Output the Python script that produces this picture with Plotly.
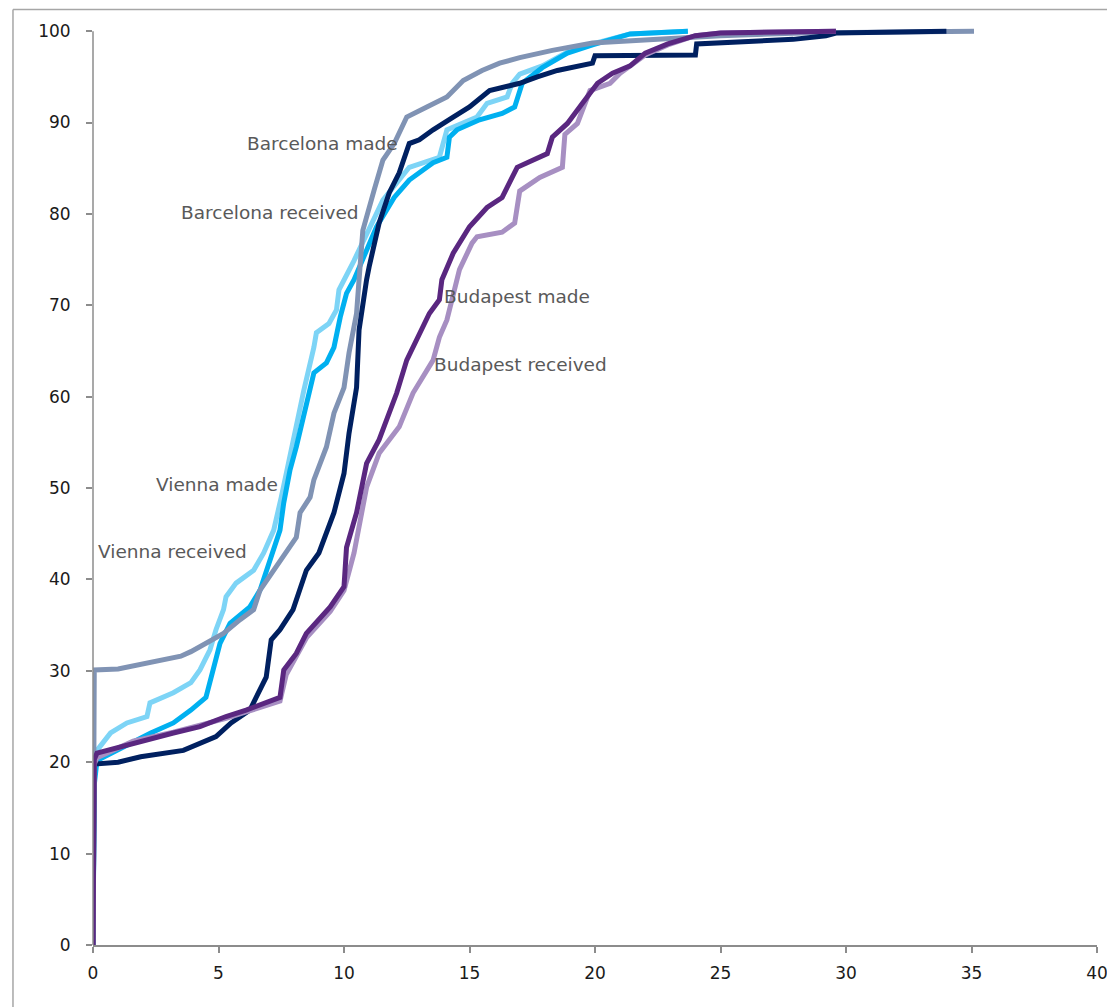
import plotly.graph_objects as go

# ---------------- data ----------------
bcn_made_x = [0, 0.05, 1.0, 1.5, 2.3, 3.5, 3.9, 4.66, 5.2, 5.86, 6.4, 6.65, 7.2, 7.7, 8.1, 8.25, 8.65, 8.8,
              9.3, 9.6, 10.0, 10.2, 10.4, 10.5, 10.6, 10.75, 11.2, 11.55, 12.0, 12.5, 13.3, 14.1, 14.75, 15.5,
              16.2, 17.0, 18.3, 19.9, 22.5, 25.0, 28.2, 35.1]
bcn_made_y = [0, 30.1, 30.2, 30.5, 31.0, 31.6, 32.1, 33.2, 34.1, 35.6, 36.7, 38.8, 41.0, 43.2, 44.6, 47.3, 49.0, 50.9,
              54.5, 58.2, 61.0, 64.8, 67.6, 69.1, 72.8, 78.2, 82.6, 85.9, 87.7, 90.6, 91.7, 92.8, 94.6, 95.7,
              96.5, 97.1, 97.9, 98.7, 99.1, 99.5, 99.8, 100]

bcn_recv_x = [0, 0.05, 1.0, 1.9, 3.6, 4.9, 5.5, 6.25, 6.5, 6.9, 7.1, 7.45, 7.97, 8.25, 8.5, 9.0, 9.6, 10.0,
              10.2, 10.5, 10.6, 10.9, 11.0, 11.4, 11.8, 12.2, 12.6, 13.0, 13.55, 14.35, 15.0, 15.8, 17.0, 17.7,
              18.5, 19.9, 20.0, 24.0, 24.05, 27.9, 29.2, 29.6, 34.0]
bcn_recv_y = [0, 19.8, 20.0, 20.6, 21.3, 22.8, 24.3, 25.7, 27.1, 29.3, 33.4, 34.5, 36.7, 38.8, 41.0, 42.9, 47.3, 51.6,
              56.0, 61.0, 67.3, 72.8, 74.2, 79.0, 82.3, 84.5, 87.7, 88.1, 89.2, 90.6, 91.7, 93.5, 94.3, 95.0,
              95.7, 96.5, 97.3, 97.4, 98.6, 99.1, 99.5, 99.8, 100]

vie_made_x = [0, 0.05, 0.16, 1.5, 2.3, 3.2, 3.9, 4.5, 4.8, 5.06, 5.46, 6.25, 6.65, 7.05, 7.45, 7.6, 7.85,
              8.1, 8.5, 8.8, 9.3, 9.6, 9.85, 10.1, 10.4, 11.3, 12.0, 12.6, 13.55, 14.1, 14.2, 14.5, 15.4,
              16.3, 16.8, 17.1, 17.9, 18.9, 19.9, 21.4, 23.7]
vie_made_y = [0, 17.5, 20.2, 22.1, 23.2, 24.3, 25.7, 27.1, 30.1, 33.0, 35.2, 37.0, 38.8, 42.1, 45.4, 48.4, 52.0,
              54.5, 58.9, 62.6, 63.7, 65.4, 68.7, 71.3, 72.8, 78.6, 81.8, 83.7, 85.6, 86.2, 88.4, 89.2, 90.3,
              91.0, 91.7, 94.3, 96.0, 97.6, 98.5, 99.7, 100]

vie_recv_x = [0, 0.05, 0.16, 0.7, 1.35, 2.15, 2.27, 3.2, 3.9, 4.26, 4.66, 4.9, 5.2, 5.3, 5.7, 6.4, 6.8, 7.2,
              7.5, 8.0, 8.4, 8.8, 8.9, 9.4, 9.7, 9.8, 10.4, 11.55, 12.6, 13.8, 14.1, 15.3, 15.7, 16.5, 16.7,
              17.0, 17.9, 18.9, 19.9, 21.4, 23.7]
vie_recv_y = [0, 18.5, 21.3, 23.2, 24.3, 25.0, 26.5, 27.6, 28.7, 30.1, 32.3, 34.5, 36.7, 38.1, 39.6, 41.0, 42.9, 45.4,
              49.0, 55.6, 60.7, 65.4, 67.0, 68.0, 69.5, 71.7, 74.9, 81.5, 85.1, 86.2, 89.2, 90.6, 92.1, 92.8, 94.3,
              95.3, 96.2, 97.7, 98.6, 99.7, 100]

bud_made_x = [0, 0.05, 0.16, 1.6, 3.2, 4.26, 5.3, 6.1, 7.45, 7.6, 8.1, 8.5, 9.45, 10.0, 10.1, 10.5, 10.9,
              11.4, 11.7, 12.1, 12.5, 12.9, 13.4, 13.8, 13.9, 14.35, 15.0, 15.7, 16.3, 16.9, 18.1, 18.3, 18.9,
              19.5, 20.1, 20.7, 21.4, 22.0, 22.9, 24.0, 25.0, 29.6]
bud_made_y = [0, 20.3, 21.0, 22.1, 23.2, 23.9, 25.0, 25.7, 27.1, 30.1, 31.9, 34.1, 37.0, 39.2, 43.5, 47.3, 52.7,
              55.3, 57.4, 60.4, 64.0, 66.2, 69.1, 70.6, 72.8, 75.7, 78.6, 80.7, 81.8, 85.1, 86.6, 88.4, 89.9,
              92.1, 94.3, 95.4, 96.2, 97.6, 98.6, 99.5, 99.8, 100]

bud_recv_x = [0, 0.05, 0.16, 1.6, 3.2, 4.26, 5.3, 6.1, 7.45, 7.7, 8.1, 8.5, 9.45, 10.0, 10.4, 10.9, 11.4,
              12.2, 12.75, 13.15, 13.55, 13.8, 14.1, 14.3, 14.6, 15.1, 15.3, 16.3, 16.8, 17.0, 17.8, 18.7,
              18.8, 19.3, 19.8, 20.6, 21.0, 22.0, 22.9, 24.0, 25.0, 29.6]
bud_recv_y = [0, 19.8, 20.5, 22.3, 23.3, 24.0, 24.8, 25.5, 26.7, 29.6, 31.5, 33.6, 36.5, 38.8, 42.9, 50.1, 53.8,
              56.7, 60.4, 62.1, 64.0, 66.5, 68.4, 70.6, 73.9, 76.8, 77.5, 78.0, 79.0, 82.5, 84.0, 85.1,
              88.7, 89.9, 93.5, 94.3, 95.4, 97.4, 98.5, 99.5, 99.8, 100]

series_names = ["Vienna received", "Vienna made", "Barcelona made", "Barcelona received",
                "Budapest received", "Budapest made"]
series_x = [vie_recv_x, vie_made_x, bcn_made_x, bcn_recv_x, bud_recv_x, bud_made_x]
series_y = [vie_recv_y, vie_made_y, bcn_made_y, bcn_recv_y, bud_recv_y, bud_made_y]
series_colors = ["#7dd4f6", "#00b0f0", "#8093b4", "#002060", "#a78fc2", "#5a2780"]

x_ticks = [0, 5, 10, 15, 20, 25, 30, 35, 40]
y_ticks = [0, 10, 20, 30, 40, 50, 60, 70, 80, 90, 100]

label_texts = ["Barcelona made", "Barcelona received", "Budapest made", "Budapest received",
               "Vienna made", "Vienna received"]
label_x = [9.16, 7.05, 16.9, 17.05, 4.94, 3.15]
label_y = [87.7, 80.2, 71.0, 63.5, 50.4, 43.1]

# ---------------- figure ----------------
fig = go.Figure()
for name, xs, ys, col in zip(series_names, series_x, series_y, series_colors):
    assert len(xs) == len(ys), name
    fig.add_trace(go.Scatter(x=xs, y=ys, mode="lines", name=name,
                             line=dict(color=col, width=5), hoverinfo="skip"))

for t, xx, yy in zip(label_texts, label_x, label_y):
    fig.add_annotation(x=xx, y=yy, text=t, showarrow=False, xanchor="center", yanchor="middle",
                       font=dict(family="DejaVu Sans", size=18.5, color="#595959"))

axis_col = "#8c8c8c"
fig.update_xaxes(range=[0, 40], tickvals=x_ticks, ticks="outside", ticklen=6, tickwidth=1.5,
                 tickcolor=axis_col, showline=True, linecolor=axis_col, linewidth=1.5,
                 showgrid=False, zeroline=False, ticklabelstandoff=6, automargin=False,
                 tickfont=dict(family="DejaVu Sans", size=17, color="#1a1a1a"))
fig.update_yaxes(range=[0, 101], tickvals=y_ticks, ticks="outside", ticklen=6, tickwidth=1.5,
                 tickcolor=axis_col, showline=False, showgrid=False, zeroline=False,
                 ticklabelstandoff=12, automargin=False,
                 tickfont=dict(family="DejaVu Sans", size=17, color="#1a1a1a"))

# y axis line (only up to 100), and the outer chart border
fig.add_shape(type="line", xref="paper", yref="y", x0=0, x1=0, y0=0, y1=100,
              line=dict(color=axis_col, width=1.5))
fig.add_shape(type="line", xref="paper", yref="paper", x0=-0.0797, x1=-0.0797, y0=-0.2, y1=1.0135,
              line=dict(color="#a6a6a6", width=1.5))
fig.add_shape(type="line", xref="paper", yref="paper", x0=-0.0797, x1=1.2, y0=1.0135, y1=1.0135,
              line=dict(color="#a6a6a6", width=1.5))

# page body has an 8px margin, so the figure is 8px smaller and margins shifted accordingly
fig.update_layout(width=1107, height=999, showlegend=False,
                  margin=dict(l=85, r=18, t=14, b=62, autoexpand=False),
                  paper_bgcolor="white", plot_bgcolor="white")

fig.write_html("out.html")
